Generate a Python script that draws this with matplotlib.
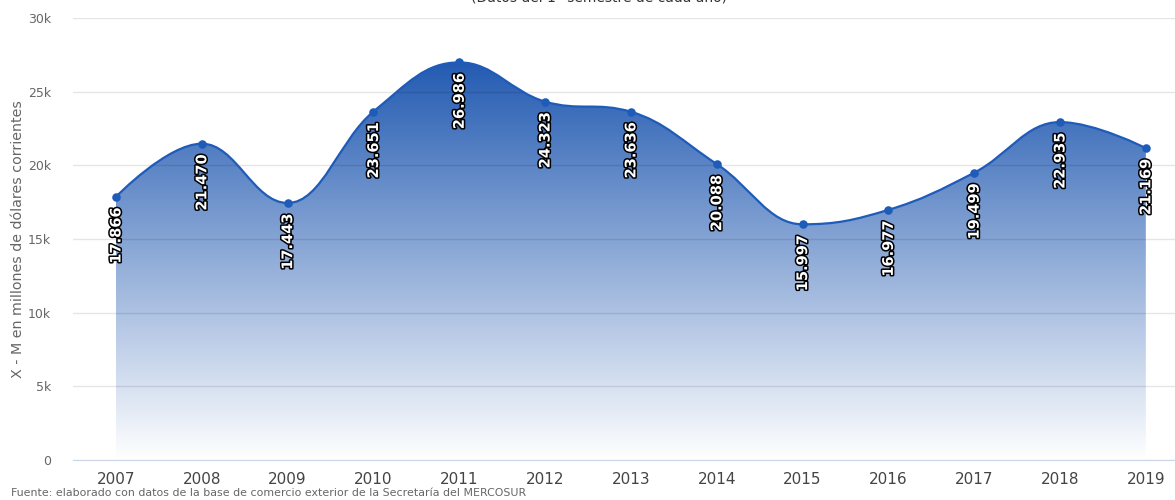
import numpy as np
import matplotlib
matplotlib.use("Agg")
import matplotlib.pyplot as plt
from matplotlib.path import Path
from matplotlib.patches import PathPatch
import matplotlib.patheffects as pe

years = ["2007", "2008", "2009", "2010", "2011", "2012", "2013",
         "2014", "2015", "2016", "2017", "2018", "2019"]
balance = [17866, 21470, 17443, 23651, 26986, 24323, 23636,
           20088, 15997, 16977, 19499, 22935, 21169]
value_labels = ["17.866", "21.470", "17.443", "23.651", "26.986", "24.323", "23.636",
                "20.088", "15.997", "16.977", "19.499", "22.935", "21.169"]
y_ticks = [0, 5000, 10000, 15000, 20000, 25000, 30000]
y_tick_labels = ["0", "5k", "10k", "15k", "20k", "25k", "30k"]

LINE = "#1f5bb8"


# Highcharts-style spline control points
def spline_path(xs, ys):
    n = len(xs)
    smoothing = 1.5
    denom = smoothing + 1
    left = [(xs[i], ys[i]) for i in range(n)]
    right = [(xs[i], ys[i]) for i in range(n)]
    for i in range(1, n - 1):
        px, py = xs[i], ys[i]
        lx, ly = xs[i - 1], ys[i - 1]
        nx, ny = xs[i + 1], ys[i + 1]
        lcx = (smoothing * px + lx) / denom
        lcy = (smoothing * py + ly) / denom
        rcx = (smoothing * px + nx) / denom
        rcy = (smoothing * py + ny) / denom
        corr = ((rcy - lcy) * (rcx - px)) / (rcx - lcx) + py - rcy
        lcy += corr
        rcy += corr
        if lcy > max(ly, py):
            lcy = max(ly, py)
            rcy = 2 * py - lcy
        elif lcy < min(ly, py):
            lcy = min(ly, py)
            rcy = 2 * py - lcy
        if rcy > max(py, ny):
            rcy = max(py, ny)
            lcy = 2 * py - rcy
        elif rcy < min(py, ny):
            rcy = min(py, ny)
            lcy = 2 * py - rcy
        left[i] = (lcx, lcy)
        right[i] = (rcx, rcy)
    verts = [(xs[0], ys[0])]
    codes = [Path.MOVETO]
    for i in range(1, n):
        verts += [right[i - 1], left[i], (xs[i], ys[i])]
        codes += [Path.CURVE4] * 3
    return verts, codes


fig = plt.figure(figsize=(11.75, 5), dpi=100)
ax = fig.add_axes([0.0622, 0.08, 0.9378, 0.884])

x = np.arange(len(years))
ax.set_xlim(-0.5, 12.34)
ax.set_ylim(0, 30000)

verts, codes = spline_path(list(x.astype(float)), [float(v) for v in balance])

# area fill with vertical gradient
area_verts = verts + [(x[-1], 0), (x[0], 0), verts[0]]
area_codes = codes + [Path.LINETO, Path.LINETO, Path.CLOSEPOLY]
area = PathPatch(Path(area_verts, area_codes), facecolor="none", edgecolor="none")
ax.add_patch(area)
top = np.array([0.09, 0.32, 0.68])
bottom = np.array([1.0, 1.0, 1.0])
t = np.linspace(0, 1, 256)[:, None]
grad = (top * (1 - t) + bottom * t)[:, None, :]
grad = np.repeat(grad, 2, axis=1)
im = ax.imshow(grad, extent=[-0.5, 12.34, 0, 28500], origin="upper",
               aspect="auto", zorder=1)
im.set_clip_path(area)

ax.add_patch(PathPatch(Path(verts, codes), facecolor="none", edgecolor=LINE,
                       linewidth=1.6, zorder=3))
ax.scatter(x, balance, s=38, color=LINE, zorder=4, linewidths=0)

for xi, v, lab in zip(x, balance, value_labels):
    ax.annotate(lab, (xi, v), xytext=(0, -7.5), textcoords="offset points",
                rotation=90, ha="center", va="top", fontsize=10.5,
                fontweight="bold", color="white", zorder=5,
                path_effects=[pe.withStroke(linewidth=2.2, foreground="black")])

ax.set_yticks(y_ticks)
ax.set_yticklabels(y_tick_labels)
ax.set_xticks(x)
ax.set_xticklabels(years)
ax.grid(axis="y", color="black", alpha=0.1, linewidth=1, zorder=2)
ax.set_axisbelow(False)
for s in ["top", "right", "left"]:
    ax.spines[s].set_visible(False)
ax.spines["bottom"].set_color("#ccd6eb")
ax.tick_params(axis="y", length=0, pad=16, labelsize=9, labelcolor="#666666")
ax.tick_params(axis="x", length=0, pad=9, labelsize=11, labelcolor="#444444")
ax.set_ylabel("X - M en millones de dólares corrientes", fontsize=10.3,
              color="#666666", labelpad=2)

fig.text(0.51, 1.005, "(Datos del 1° semestre de cada año)", ha="center",
         va="center", fontsize=10, color="#333333")
fig.text(0.009, 0.014, "Fuente: elaborado con datos de la base de comercio exterior de la Secretaría del MERCOSUR",
         ha="left", va="center", fontsize=7.9, color="#666666")

fig.savefig("out.png", dpi=100)
